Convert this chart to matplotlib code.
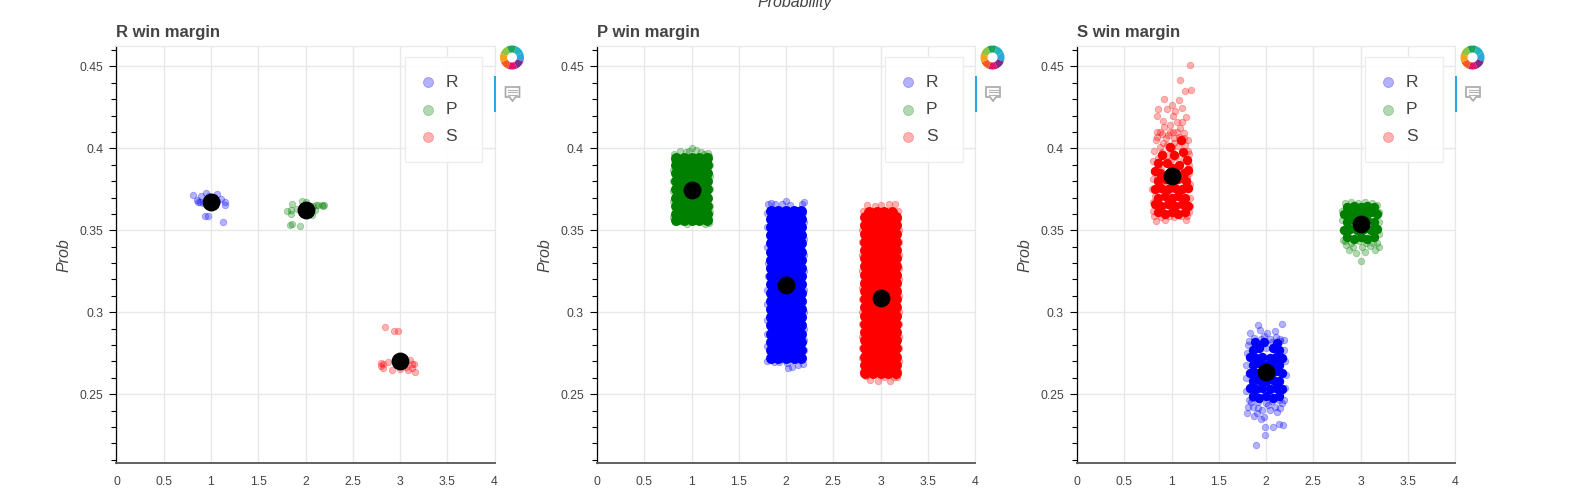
import matplotlib
matplotlib.use('Agg')
import matplotlib.pyplot as plt
from matplotlib.patches import Wedge, Rectangle, Polygon
from matplotlib.ticker import MultipleLocator, FixedLocator, FixedFormatter

plt.rcParams['font.family'] = ['Liberation Sans', 'DejaVu Sans']

#------------------------------------------------------------------------------
# data (dense clouds are estimates, single dots cannot be
# told apart there: "core" = solid part of a cloud, the rest = visible dots)
titles = ['R win margin', 'P win margin', 'S win margin']
series_names = ['R', 'P', 'S']
series_colors = ['blue', 'green', 'red']
x_ticks = [0, 0.5, 1, 1.5, 2, 2.5, 3, 3.5, 4]
x_tick_labels = ['0', '0.5', '1', '1.5', '2', '2.5', '3', '3.5', '4']
y_ticks = [0.25, 0.3, 0.35, 0.4, 0.45]
y_tick_labels = ['0.25', '0.3', '0.35', '0.4', '0.45']

means_x = [1, 2, 3]
means_r_win = [0.3674, 0.3626, 0.2704]
means_p_win = [0.3745, 0.3165, 0.3090]
means_s_win = [0.3830, 0.2635, 0.3540]

# R win margin panel
r_win_r = [(.812,.3715),(.851,.3687),(.865,.3672),(.890,.3707),(.943,.3729),(1.066,.3721),
           (1.109,.3691),(1.151,.3672),(1.151,.3656),(.939,.3589),(.967,.3585),(1.123,.3549),
           (.911,.3666),(1.059,.3676),(.98,.371),(1.03,.3705),(.88,.3675)]
r_win_p = [(1.853,.3662),(1.966,.3676),(1.804,.362),(1.843,.3626),(1.843,.3599),(1.906,.363),
           (1.839,.353),(1.861,.3541),(1.942,.3526),(2.10,.3622),(2.108,.3652),(2.129,.3652),
           (2.171,.3652),(2.182,.3646),(2.2,.3656),(2.083,.3646),(2.065,.3595),(2.0,.367)]
r_win_s = [(2.842,.2912),(2.934,.2886),(2.983,.2886),(2.803,.269),(2.803,.2673),(2.824,.2661),
           (2.824,.2684),(2.877,.2694),(2.92,.2649),(3.0,.2655),(3.086,.2649),(3.132,.2663),
           (3.107,.2708),(3.124,.2686),(3.153,.2686),(3.156,.2635),(3.065,.2665)]

# P win margin panel
p_win_r_core = [
    (1.84,.272),(1.92,.272),(2.0,.272),(2.08,.272),(2.16,.272),
    (1.84,.277),(1.88,.277),(1.96,.277),(2.04,.277),(2.12,.277),(2.16,.277),
    (1.84,.282),(1.92,.282),(2.0,.282),(2.08,.282),(2.16,.282),
    (1.84,.287),(1.88,.287),(1.96,.287),(2.04,.287),(2.12,.287),(2.16,.287),
    (1.84,.292),(1.92,.292),(2.0,.292),(2.08,.292),(2.16,.292),
    (1.84,.297),(1.88,.297),(1.96,.297),(2.04,.297),(2.12,.297),(2.16,.297),
    (1.84,.302),(1.92,.302),(2.0,.302),(2.08,.302),(2.16,.302),
    (1.84,.307),(1.88,.307),(1.96,.307),(2.04,.307),(2.12,.307),(2.16,.307),
    (1.84,.312),(1.92,.312),(2.0,.312),(2.08,.312),(2.16,.312),
    (1.84,.317),(1.88,.317),(1.96,.317),(2.04,.317),(2.12,.317),(2.16,.317),
    (1.84,.322),(1.92,.322),(2.0,.322),(2.08,.322),(2.16,.322),
    (1.84,.327),(1.88,.327),(1.96,.327),(2.04,.327),(2.12,.327),(2.16,.327),
    (1.84,.332),(1.92,.332),(2.0,.332),(2.08,.332),(2.16,.332),
    (1.84,.337),(1.88,.337),(1.96,.337),(2.04,.337),(2.12,.337),(2.16,.337),
    (1.84,.342),(1.92,.342),(2.0,.342),(2.08,.342),(2.16,.342),
    (1.84,.347),(1.88,.347),(1.96,.347),(2.04,.347),(2.12,.347),(2.16,.347),
    (1.84,.352),(1.92,.352),(2.0,.352),(2.08,.352),(2.16,.352),
    (1.84,.357),(1.88,.357),(1.96,.357),(2.04,.357),(2.12,.357),(2.16,.357),
    (1.84,.362),(1.92,.362),(2.0,.362),(2.08,.362),(2.16,.362)]
p_win_r = [(1.81,.3659),(1.84,.3669),(1.883,.3659),(1.954,.3659),(2.0,.368),(2.043,.3655),
           (2.167,.3659),(2.195,.3673),(1.80,.3608),(2.184,.3608),(1.801,.2706),(1.848,.2751),
           (1.876,.2694),(1.929,.2696),(1.97,.2745),(2.007,.269),(2.025,.2659),(2.067,.2665),
           (2.131,.268),(2.184,.2686),(1.80,.2792),(2.19,.2833),(1.80,.3139),(2.195,.3139),
           (1.80,.34),(2.19,.345),(1.803,.295),(2.192,.30),(1.805,.33),(2.195,.325),
           (1.80,.352),(2.19,.355),(1.9,.272),(2.1,.271),(1.80,.287),(2.195,.277),(1.80,.305),
           (2.19,.29),(1.805,.322),(2.19,.335)]

p_win_p_core = [
    (.84,.356),(.92,.356),(1.0,.356),(1.08,.356),(1.16,.356),
    (.84,.360),(.88,.360),(.96,.360),(1.04,.360),(1.12,.360),(1.16,.360),
    (.84,.365),(.92,.365),(1.0,.365),(1.08,.365),(1.16,.365),
    (.84,.370),(.88,.370),(.96,.370),(1.04,.370),(1.12,.370),(1.16,.370),
    (.84,.375),(.92,.375),(1.0,.375),(1.08,.375),(1.16,.375),
    (.84,.380),(.88,.380),(.96,.380),(1.04,.380),(1.12,.380),(1.16,.380),
    (.84,.385),(.92,.385),(1.0,.385),(1.08,.385),(1.16,.385),
    (.84,.390),(.88,.390),(.96,.390),(1.04,.390),(1.12,.390),(1.16,.390),
    (.84,.394),(.92,.394),(1.0,.394),(1.08,.394),(1.16,.394)]
p_win_p = [(.82,.3965),(.88,.3985),(.94,.3975),(1.0,.4),(1.05,.399),(1.10,.398),(1.17,.397),
           (1.19,.3955),(.81,.393),(1.195,.39),(.80,.38),(1.195,.375),(.805,.368),(1.195,.365),
           (.80,.358),(1.19,.357),(.83,.355),(.89,.3555),(.95,.354),(1.02,.3555),(1.08,.356),
           (1.14,.354),(1.18,.3545),(.97,.3985),(1.13,.3965),(.805,.387),(1.195,.383),(.80,.374),
           (1.195,.361)]

p_win_s_core = [
    (2.84,.263),(2.92,.263),(3.0,.263),(3.08,.263),(3.16,.263),
    (2.84,.268),(2.88,.268),(2.96,.268),(3.04,.268),(3.12,.268),(3.16,.268),
    (2.84,.273),(2.92,.273),(3.0,.273),(3.08,.273),(3.16,.273),
    (2.84,.278),(2.88,.278),(2.96,.278),(3.04,.278),(3.12,.278),(3.16,.278),
    (2.84,.283),(2.92,.283),(3.0,.283),(3.08,.283),(3.16,.283),
    (2.84,.288),(2.88,.288),(2.96,.288),(3.04,.288),(3.12,.288),(3.16,.288),
    (2.84,.293),(2.92,.293),(3.0,.293),(3.08,.293),(3.16,.293),
    (2.84,.298),(2.88,.298),(2.96,.298),(3.04,.298),(3.12,.298),(3.16,.298),
    (2.84,.303),(2.92,.303),(3.0,.303),(3.08,.303),(3.16,.303),
    (2.84,.308),(2.88,.308),(2.96,.308),(3.04,.308),(3.12,.308),(3.16,.308),
    (2.84,.313),(2.92,.313),(3.0,.313),(3.08,.313),(3.16,.313),
    (2.84,.318),(2.88,.318),(2.96,.318),(3.04,.318),(3.12,.318),(3.16,.318),
    (2.84,.323),(2.92,.323),(3.0,.323),(3.08,.323),(3.16,.323),
    (2.84,.328),(2.88,.328),(2.96,.328),(3.04,.328),(3.12,.328),(3.16,.328),
    (2.84,.333),(2.92,.333),(3.0,.333),(3.08,.333),(3.16,.333),
    (2.84,.338),(2.88,.338),(2.96,.338),(3.04,.338),(3.12,.338),(3.16,.338),
    (2.84,.343),(2.92,.343),(3.0,.343),(3.08,.343),(3.16,.343),
    (2.84,.348),(2.88,.348),(2.96,.348),(3.04,.348),(3.12,.348),(3.16,.348),
    (2.84,.353),(2.92,.353),(3.0,.353),(3.08,.353),(3.16,.353),
    (2.84,.358),(2.88,.358),(2.96,.358),(3.04,.358),(3.12,.358),(3.16,.358),
    (2.88,.361),(2.96,.361),(3.04,.361),(3.12,.361)]
p_win_s = [(2.858,.3653),(2.82,.3618),(2.947,.3649),(3.0,.3653),(3.089,.3659),(3.149,.3659),
           (3.185,.3618),(2.911,.3618),(2.82,.2639),(2.894,.2588),(2.972,.2584),(3.096,.2584),
           (3.177,.2608),(3.19,.2639),(3.035,.2608),(2.805,.272),(2.80,.285),(2.805,.30),
           (2.80,.315),(2.80,.335),(2.805,.35),(3.195,.27),(3.195,.285),(3.195,.30),
           (3.195,.32),(3.195,.335),(3.195,.35),(2.85,.261),(3.14,.2605),(2.80,.278),(2.80,.293),
           (2.805,.308),(2.805,.325),(2.80,.343),(3.195,.278),(3.195,.293),(3.195,.31),
           (3.195,.327),(3.195,.343),(3.19,.357)]

# S win margin panel
s_win_r_core = [
    (.86,.361),(.93,.360),(1.0,.361),(1.07,.360),(1.14,.361),
    (.83,.366),(.89,.365),(.96,.366),(1.04,.365),(1.11,.366),(1.17,.365),
    (.86,.370),(.93,.371),(1.0,.370),(1.07,.371),(1.14,.370),
    (.83,.375),(.89,.376),(.96,.375),(1.04,.376),(1.11,.375),(1.17,.376),
    (.86,.380),(.93,.381),(1.0,.380),(1.07,.381),(1.15,.380),
    (.88,.385),(1.04,.386),(1.13,.385),(1.17,.387),(.83,.386),
    (.86,.391),(.95,.391),(1.0,.388),(1.08,.390),(1.16,.393),
    (.90,.396),(1.03,.396),(1.12,.398),(.98,.401),(1.10,.405)]
s_win_r = [(1.191,.4506),(1.089,.4415),(1.142,.4348),(1.202,.4354),(.918,.4298),(1.0,.4267),
           (1.078,.4294),(.862,.4241),(.957,.4241),(1.035,.4227),(1.106,.4243),(.851,.4196),
           (1.014,.4196),(1.156,.4192),(.908,.4168),(1.06,.4158),(1.113,.4162),(.982,.4142),
           (.918,.4132),(.85,.4101),(1.13,.4091),(.98,.4101),(1.06,.4101),(.844,.4067),
           (.94,.4061),(1.025,.4061),(1.13,.4065),(.90,.4085),(1.09,.4125),(.82,.3985),
           (.88,.4005),(.95,.402),(1.01,.3995),(1.07,.4015),(1.17,.3985),(1.19,.3965),
           (.80,.392),(.86,.394),(.93,.391),(.99,.393),(1.05,.395),(1.12,.393),(1.18,.39),
           (.82,.386),(.89,.387),(.97,.385),(1.04,.388),(1.1,.386),(1.19,.385),(.80,.381),
           (.85,.381),(.94,.38),(1.0,.376),(1.06,.381),(1.16,.382),(1.2,.378),(.79,.375),
           (.83,.371),(1.2,.37),(.80,.367),(1.2,.365),(.80,.362),(1.18,.361),(.82,.359),
           (.89,.358),(.97,.359),(1.03,.358),(1.1,.3585),(1.16,.3585),(.84,.3555),(.93,.3565),
           (1.15,.356),(.91,.4035),(1.11,.4045),(.96,.396),(1.08,.39),(.86,.3895),
           (.84,.405),(.88,.410),(.96,.408),(1.03,.403),(1.14,.402),(1.17,.405),(.90,.398),
           (1.02,.410),(1.08,.407)]

s_win_p_core = [
    (2.86,.346),(2.93,.345),(3.0,.346),(3.07,.345),(3.14,.346),
    (2.83,.350),(2.89,.351),(2.96,.350),(3.04,.351),(3.11,.350),(3.17,.351),
    (2.86,.355),(2.93,.356),(3.0,.355),(3.07,.356),(3.14,.355),
    (2.83,.360),(2.89,.360),(2.96,.361),(3.04,.360),(3.11,.361),(3.17,.360),
    (2.86,.364),(2.93,.365),(3.0,.364),(3.07,.365),(3.14,.364)]
s_win_p = [(3.0,.331),(2.95,.336),(3.05,.3365),(2.88,.338),(3.15,.338),(3.2,.34),(2.85,.341),
           (2.92,.34),(3.02,.34),(3.1,.3405),(3.17,.3425),(2.81,.344),(2.82,.35),(2.8,.356),
           (2.8,.362),(3.2,.348),(3.2,.355),(3.2,.361),(2.84,.3665),(2.9,.367),(2.97,.3665),
           (3.05,.367),(3.12,.3665),(3.17,.3655),(2.84,.3435),(3.13,.3425),(2.90,.3425),
           (2.98,.3435),(3.06,.3425)]

s_win_b_core = [
    (1.86,.249),(1.93,.248),(2.0,.249),(2.07,.248),(2.14,.249),
    (1.83,.254),(1.89,.253),(1.96,.254),(2.04,.253),(2.11,.254),(2.17,.253),
    (1.86,.258),(1.93,.259),(2.0,.258),(2.07,.259),(2.14,.258),
    (1.83,.263),(1.89,.263),(1.96,.264),(2.04,.263),(2.11,.264),(2.17,.263),
    (1.86,.268),(1.93,.269),(2.0,.268),(2.07,.269),(2.14,.268),
    (1.83,.273),(1.89,.272),(1.96,.273),(2.04,.272),(2.11,.273),(2.17,.272),
    (1.86,.277),(1.93,.278),(2.07,.278),(2.14,.277),
    (1.88,.282),(1.98,.282),(2.12,.281)]
s_win_b = [(1.911,.2924),(2.174,.2929),(1.936,.289),(2.007,.2873),(1.979,.2853),(2.096,.2888),
           (1.83,.2873),(2.103,.2847),(2.149,.2839),(2.191,.2829),(1.82,.2825),(1.801,.2384),
           (1.876,.2369),(1.943,.2349),(1.982,.2359),(2.113,.239),(1.993,.2298),(2.078,.2298),
           (2.138,.2318),(2.184,.2314),(1.989,.2251),(1.894,.219),(1.81,.2425),(1.82,.2465),
           (1.85,.2475),(1.92,.2415),(1.96,.2405),(2.04,.2405),(2.10,.2425),(2.17,.2445),
           (2.19,.2465),(1.79,.252),(1.79,.26),(1.785,.268),(1.80,.275),(1.81,.28),(2.2,.254),
           (2.21,.262),(2.2,.27),(2.19,.277),(1.87,.2845),(1.95,.2835),(2.04,.2835),(2.15,.2825),
           (1.84,.245),(1.92,.2455),(2.0,.2445),(2.06,.246),(2.14,.2465),(2.0,.2785),(2.06,.282),
           (1.86,.2425),(2.02,.2435),(2.15,.2415),(1.90,.2385)]

panels = [
    {'title': titles[0], 'means': means_r_win, 'core_s': 62,
     'clouds': [(r_win_r, [], 'blue'), (r_win_p, [], 'green'), (r_win_s, [], 'red')]},
    {'title': titles[1], 'means': means_p_win, 'core_s': 62,
     'clouds': [(p_win_p, p_win_p_core, 'green'), (p_win_r, p_win_r_core, 'blue'),
                (p_win_s, p_win_s_core, 'red')]},
    {'title': titles[2], 'means': means_s_win, 'core_s': 46,
     'clouds': [(s_win_r, s_win_r_core, 'red'), (s_win_b, s_win_b_core, 'blue'),
                (s_win_p, s_win_p_core, 'green')]},
]

#------------------------------------------------------------------------------
W, H = 1579, 494
panelLeft = [116.5, 597, 1077]
panelWidth = 378
panelTop = 46.3
panelBot = 463.5
textColor = '#444444'
gridColor = '#e8e8e8'
logoColors = ['#1fb5c4', '#2da6dd', '#7b2d8b', '#e6106e', '#f15a24', '#f7a11e', '#8dc63f', '#1aa55a']

#------------------------------------------------------------------------------
def draw_cloud(ax, points, core, color, coreSize):
    if core:
        ax.scatter(*zip(*core), s=coreSize, color=color, linewidths=0, zorder=3)
    ax.scatter(*zip(*points), s=22, color=color, alpha=0.3, linewidths=0.6, zorder=3)

def draw_legend(ax):
    # position in pixels from the top left corner of the axes
    axH = panelBot - panelTop
    ax.add_patch(Rectangle((1 - 90 / panelWidth, 1 - 116 / axH), 77.5 / panelWidth, 105 / axH,
                           transform=ax.transAxes, facecolor='white', alpha=0.95,
                           edgecolor='#eeeeee', linewidth=1.0, zorder=5))
    for name, color, dy in zip(series_names, series_colors, (36, 63.5, 90.5)):
        ax.scatter([311 / panelWidth], [1 - dy / axH], s=52, color=color, alpha=0.3, linewidths=0.6,
                   transform=ax.transAxes, zorder=6, label=name)
        ax.text(329 / panelWidth, 1 - dy / axH, name, transform=ax.transAxes, fontsize=12.5,
                color=textColor, va='center', ha='left', zorder=6)

def draw_panel(fig, left, panel):
    ax = fig.add_axes([left / W, 1 - panelBot / H, panelWidth / W, (panelBot - panelTop) / H])
    ax.set_xlim(0, 4)
    ax.set_ylim(0.2078, 0.4622)
    ax.set_axisbelow(True)
    ax.grid(True, color=gridColor, linewidth=1.0)

    for points, core, color in panel['clouds']:
        draw_cloud(ax, points, core, color, panel['core_s'])
    ax.scatter(means_x, panel['means'], s=165, color='black', linewidths=0, zorder=4)

    draw_legend(ax)

    ax.xaxis.set_major_locator(FixedLocator(x_ticks))
    ax.xaxis.set_major_formatter(FixedFormatter(x_tick_labels))
    ax.yaxis.set_major_locator(FixedLocator(y_ticks))
    ax.yaxis.set_major_formatter(FixedFormatter(y_tick_labels))
    ax.yaxis.set_minor_locator(MultipleLocator(0.01))
    ax.tick_params(axis='x', length=0, labelsize=8.8, labelcolor=textColor, pad=9)
    ax.tick_params(axis='y', which='major', length=5, width=0.8, labelsize=8.8,
                   labelcolor=textColor, pad=4.5)
    ax.tick_params(axis='y', which='minor', length=3.5, width=0.8)

    ax.spines['left'].set_color('black')
    ax.spines['left'].set_linewidth(0.9)
    ax.spines['bottom'].set_color('#555555')
    ax.spines['bottom'].set_linewidth(1.3)
    ax.spines['top'].set_color(gridColor)
    ax.spines['right'].set_color(gridColor)

    ax.set_ylabel('Prob', fontsize=11.5, style='italic', color=textColor)
    ax.yaxis.set_label_coords(-45 / panelWidth, 0.5)
    ax.text(0, 1.0 + 14 / 417, panel['title'], transform=ax.transAxes, fontsize=12,
            fontweight='bold', color=textColor, va='center', ha='left')
    return ax

def draw_toolbar(over, left):
    # bokeh logo, blue active bar and the hover icon right of the plot
    cx = left + panelWidth + 17.5
    cy = 57.5
    for i, color in enumerate(logoColors):
        over.add_patch(Wedge((cx, cy), 12, -70 + i * 45, -70 + (i + 1) * 45, width=7,
                             facecolor=color, linewidth=0))
    over.add_patch(Rectangle((left + panelWidth - 0.5, 76), 2, 36, facecolor='#26aae1', linewidth=0))

    ix = left + panelWidth + 11
    over.add_patch(Polygon([(ix, 87), (ix + 14, 87), (ix + 14, 97), (ix + 10, 97), (ix + 7, 101),
                            (ix + 4, 97), (ix, 97)], closed=True, facecolor='white',
                           edgecolor='#a8a8a8', linewidth=1.2))
    for ly in (90, 92.5, 95):
        over.plot([ix + 2.5, ix + 11.5], [ly, ly], color='#b4b4b4', linewidth=0.8)

def main():
    fig = plt.figure(figsize=(W / 100, H / 100), dpi=100)
    for left, panel in zip(panelLeft, panels):
        draw_panel(fig, left, panel)

    over = fig.add_axes([0, 0, 1, 1], facecolor='none')
    over.set_xlim(0, W)
    over.set_ylim(H, 0)
    over.axis('off')
    for left in panelLeft:
        draw_toolbar(over, left)

    fig.text(795 / W, 1 - 2 / H, 'Probability', fontsize=11.5, style='italic', color=textColor,
             ha='center', va='center')
    fig.savefig('out.png', dpi=100)

if __name__ == "__main__":
    main()
